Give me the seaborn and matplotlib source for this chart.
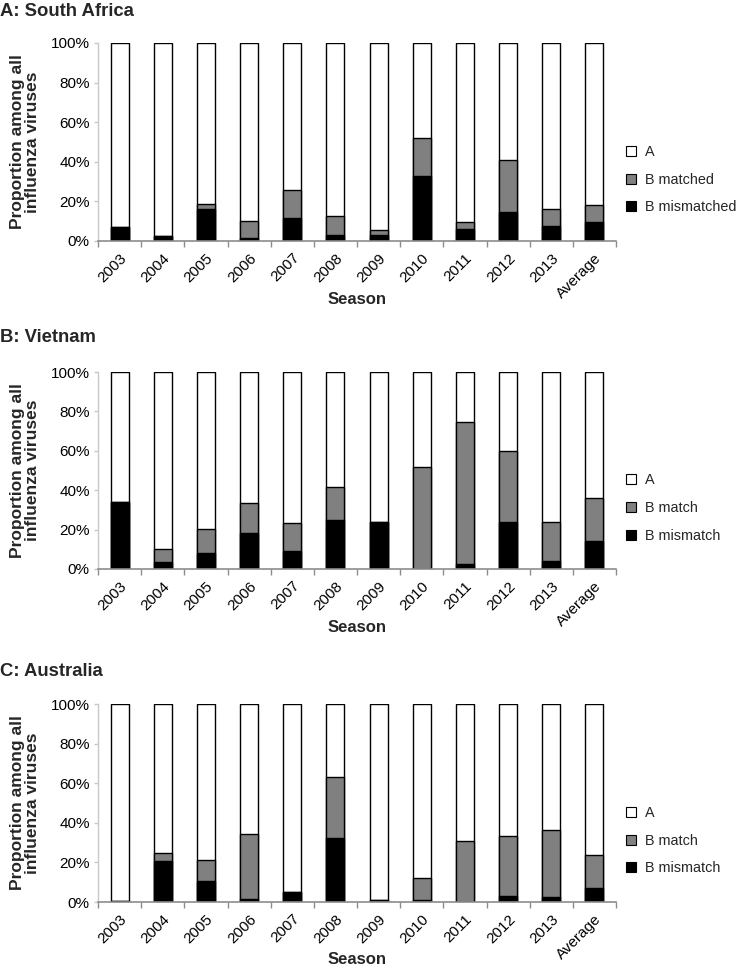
import matplotlib
matplotlib.use("Agg")
import matplotlib.pyplot as plt
import seaborn as sns
import numpy as np
import pandas as pd
from matplotlib.lines import Line2D
from matplotlib.ticker import PercentFormatter

sns.set_theme(style="white")
plt.rcParams['font.family'] = ['Liberation Sans', 'DejaVu Sans']

seasons = ['2003', '2004', '2005', '2006', '2007', '2008', '2009', '2010',
           '2011', '2012', '2013', 'Average']

sa_mismatch = [7.0, 2.7, 16.0, 1.5, 11.7, 3.2, 2.9, 32.8, 5.9, 14.5, 7.8, 9.6]
sa_match = [0.0, 0.0, 2.7, 8.8, 14.3, 9.6, 2.8, 19.4, 3.7, 26.5, 8.6, 8.8]

vn_mismatch = [34.2, 3.5, 8.3, 18.5, 9.3, 25.1, 23.8, 0.0, 2.4, 24.1, 3.9, 14.0]
vn_match = [0.0, 6.8, 12.0, 14.9, 14.0, 16.6, 0.0, 51.8, 72.0, 35.9, 19.9, 21.9]

au_mismatch = [0.6, 20.9, 10.6, 1.3, 5.2, 32.4, 0.8, 1.0, 0.0, 3.2, 2.5, 7.1]
au_match = [0.0, 4.0, 10.6, 33.1, 0.0, 30.8, 0.0, 11.3, 31.0, 30.0, 34.1, 16.8]

panels = [
    ("A: South Africa", sa_mismatch, sa_match, ["A", "B matched", "B mismatched"]),
    ("B: Vietnam", vn_mismatch, vn_match, ["A", "B match", "B mismatch"]),
    ("C: Australia", au_mismatch, au_match, ["A", "B match", "B mismatch"]),
]

W, H = 738, 974
fig = plt.figure(figsize=(W / 100, H / 100), dpi=100)

# axes pixel boxes: (left, top, right, bottom)
boxes = [(98, 43, 616, 241), (98, 372, 616, 569), (98, 704, 616, 902)]
title_y = [12, 338, 671]

GRAY = "#808080"
AXC = "#8c8c8c"
LEFTC = "#c8c8c8"
FS = 10.4

for (title, mism, match, labels), (l, t, r, b), ty in zip(panels, boxes, title_y):
    wpx, hpx = r - l, b - t
    ax = fig.add_axes([l / W, 1 - b / H, wpx / W, hpx / H])
    df = pd.DataFrame({
        "season": seasons,
        "total": [100.0] * len(seasons),
        "b_all": [m + n for m, n in zip(mism, match)],
        "b_mis": mism,
    })
    common = dict(x="season", order=seasons, width=0.42, edgecolor="black",
                  linewidth=1.0, saturation=1, ax=ax)
    sns.barplot(data=df, y="total", color="white", **common)
    sns.barplot(data=df, y="b_all", color=GRAY, **common)
    sns.barplot(data=df, y="b_mis", color="black", **common)

    ax.set_xlim(-0.5, len(seasons) - 0.5)
    ax.set_ylim(0, 100)
    ax.set_yticks([0, 20, 40, 60, 80, 100])
    ax.yaxis.set_major_formatter(PercentFormatter(decimals=0))
    ax.set_xticks(np.arange(len(seasons)))
    ax.set_xticklabels(seasons, rotation=45, ha="right", rotation_mode="anchor")
    ax.set_xticks(np.arange(-0.5, len(seasons)), minor=True)
    ax.tick_params(axis="x", which="major", length=0, pad=7, labelsize=11, colors="black")
    ax.tick_params(axis="x", which="minor", length=4, width=1, color=AXC, bottom=True)
    ax.tick_params(axis="y", left=True, length=3, width=1, color=LEFTC, pad=3,
                   labelsize=11, labelcolor="black")
    for s in ["top", "right"]:
        ax.spines[s].set_visible(False)
    ax.spines["left"].set_color(LEFTC)
    ax.spines["left"].set_linewidth(1.0)
    ax.spines["bottom"].set_color(AXC)
    ax.spines["bottom"].set_linewidth(1.2)
    ax.grid(False)

    ax.set_ylabel("Proportion among all\ninfluenza viruses", fontsize=12.5,
                  fontweight="bold", labelpad=8, linespacing=1.0)
    ax.set_xlabel("Season", fontsize=12, fontweight="bold", va="center")
    ax.xaxis.set_label_coords(0.5, -58 / hpx)

    handles = [
        Line2D([], [], marker="s", linestyle="none", markersize=7,
               markerfacecolor=c, markeredgecolor="black", markeredgewidth=0.8)
        for c in ["white", GRAY, "black"]
    ]
    ax.legend(handles, labels, loc="center left",
              bbox_to_anchor=((627 - l) / wpx, 0.31),
              frameon=False, fontsize=FS, handlelength=0.6, handletextpad=0.63,
              labelspacing=0.95, borderaxespad=0, borderpad=0)

    fig.text(0.0 / W, 1 - ty / H, title, fontsize=13.3, fontweight="bold",
             ha="left", va="center")

fig.savefig("out.png", dpi=100)
